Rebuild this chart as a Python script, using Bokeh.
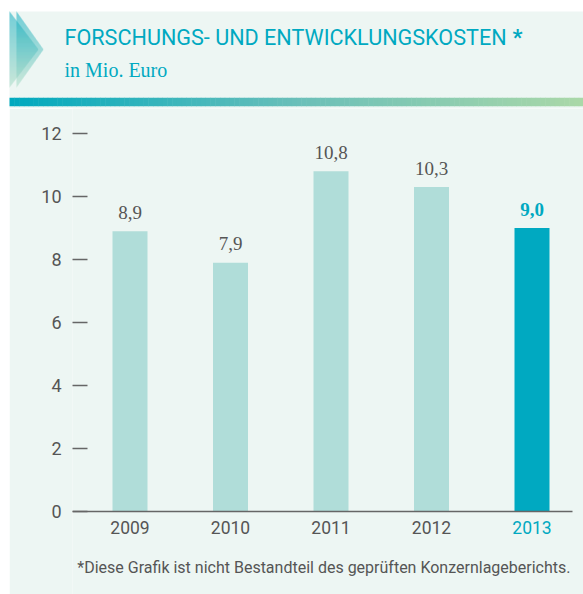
from bokeh.plotting import figure
from bokeh.layouts import column
from bokeh.models import Range1d, FixedTicker
from bokeh.core.properties import value
from bokeh.embed import file_html
from bokeh.resources import INLINE

# ---- data ----
years = [2009, 2010, 2011, 2012, 2013]
costs = [8.9, 7.9, 10.8, 10.3, 9.0]
value_labels = ["8,9", "7,9", "10,8", "10,3", "9,0"]
year_labels = ["2009", "2010", "2011", "2012", "2013"]
y_ticks = [0, 2, 4, 6, 8, 10, 12]
title_text = "FORSCHUNGS- UND ENTWICKLUNGSKOSTEN"
subtitle_text = "in Mio. Euro"
footnote_text = "*Diese Grafik ist nicht Bestandteil des geprüften Konzernlageberichts."

# ---- styles ----
PANEL = "#edf6f3"
LIGHT = "#b0ddd9"
TEAL = "#00a9c1"
GREY = "#555555"
SANS = "Roboto"
SERIF = "Liberation Serif"
SHIFT = 8  # svg text baseline compensation (px)


def lerp(c1, c2, t):
    return "#%02x%02x%02x" % tuple(int(round(a + (b - a) * t)) for a, b in zip(c1, c2))


# ---- header (coordinates = pixels) ----
hdr = figure(width=583, height=108, x_range=Range1d(0, 583), y_range=Range1d(108, 0),
             toolbar_location=None, output_backend="svg", min_border=0)
hdr.axis.visible = False
hdr.grid.visible = False
hdr.outline_line_color = None
hdr.background_fill_color = "white"
hdr.border_fill_color = "white"
hdr.frame_align = False
hdr.quad(left=9, right=583, top=11, bottom=108, fill_color=PANEL, line_color=None)

# chevron: two translucent triangles with a vertical gradient
top_c = (0, 169, 190)
bot_c = (170, 218, 196)
for x0, tip in [(9, 38), (16, 43)]:
    L, R, T, B, C = [], [], [], [], []
    n = 76
    for k in range(n):
        y0 = 11 + k
        frac = 1 - abs(y0 + 0.5 - 49) / 38.0
        if frac <= 0:
            continue
        L.append(x0); R.append(x0 + (tip - x0) * frac)
        T.append(y0); B.append(y0 + 1.05)
        C.append(lerp(top_c, bot_c, k / (n - 1)))
    hdr.quad(left=L, right=R, top=T, bottom=B, fill_color=C, fill_alpha=0.6, line_color=None)

# gradient rule
gl, gr, gc = [], [], []
stops = [(0, 169, 190), (106, 191, 185), (170, 216, 168)]
nb = 120
for i in range(nb):
    t = i / (nb - 1)
    c = lerp(stops[0], stops[1], t / 0.5) if t < 0.5 else lerp(stops[1], stops[2], (t - 0.5) / 0.5)
    gl.append(9 + (583 - 9) * i / nb)
    gr.append(9 + (583 - 9) * (i + 1) / nb + 0.5)
    gc.append(c)
hdr.quad(left=gl, right=gr, top=97.3, bottom=105.7, fill_color=gc, line_color=None)

hdr.text(x=[64], y=[45 - SHIFT], text=[title_text], text_font=value(SANS), text_font_size="21.6px",
         text_color=TEAL, text_baseline="alphabetic")
hdr.text(x=[512], y=[45 - SHIFT], text=["*"], text_font=value(SANS), text_font_size="22px",
         text_color=TEAL, text_baseline="alphabetic", text_font_style="bold")
hdr.text(x=[64], y=[76 - SHIFT + 1], text=[subtitle_text], text_font=value(SERIF), text_font_size="20px",
         text_color=TEAL, text_baseline="alphabetic")

# ---- main chart ----
PX = 31.5    # pixels per y unit
XPX = 100.5  # pixels per year
X0 = 129.5   # pixel position of first bar centre
LEFT_PANEL = 9
TOP, BASE, BOTTOM = 108, 511, 594
main = figure(width=583 - LEFT_PANEL, height=BOTTOM - TOP,
              x_range=Range1d(years[0] - (X0 - 72) / XPX, years[0] + (583 - X0) / XPX),
              y_range=Range1d(-(BOTTOM - BASE) / PX, (BASE - TOP) / PX),
              toolbar_location=None, output_backend="svg",
              min_border_left=72 - LEFT_PANEL, min_border_right=0, min_border_top=0, min_border_bottom=0)
main.margin = (0, 0, 0, LEFT_PANEL)
main.frame_align = False
main.xaxis.visible = False
main.grid.visible = False
main.outline_line_color = None
main.background_fill_color = PANEL
main.border_fill_color = PANEL

ya = main.yaxis[0]
ya.ticker = FixedTicker(ticks=y_ticks)
ya.axis_line_color = None
ya.major_tick_in = 15
ya.major_tick_out = 0
ya.minor_tick_line_color = None
ya.major_tick_line_color = "#666666"
ya.major_tick_line_width = 1.3
ya.major_label_standoff = 11
ya.major_label_text_font = SANS
ya.major_label_text_font_size = "18px"
ya.major_label_text_color = GREY

colors = [LIGHT] * (len(years) - 1) + [TEAL]
main.vbar(x=years, top=costs, bottom=0, width=35 / XPX, fill_color=colors, line_color=None)

# x axis line
main.segment(x0=[years[0] - (X0 - 72) / XPX], x1=[years[0] + (572 - X0) / XPX],
             y0=[0], y1=[0], line_color="#666666", line_width=1.5)

for i in range(len(years)):
    last = i == len(years) - 1
    main.text(x=[years[i]], y=[costs[i] + (11 + SHIFT) / PX], text=[value_labels[i]],
              text_font=value(SERIF), text_font_size="19px",
              text_color=TEAL if last else GREY,
              text_font_style="bold" if last else "normal",
              text_align="center", text_baseline="alphabetic")
    main.text(x=[years[i]], y=[-(535 - SHIFT - BASE) / PX], text=[year_labels[i]],
              text_font=value(SANS), text_font_size="17.5px",
              text_color=TEAL if last else GREY,
              text_align="center", text_baseline="alphabetic")

main.text(x=[years[0] + (570 - X0) / XPX], y=[-(575 - SHIFT - BASE) / PX], text=[footnote_text],
          text_font=value(SANS), text_font_size="16px", text_color=GREY,
          text_align="right", text_baseline="alphabetic")

layout = column(hdr, main, spacing=0)
open("out.html", "w").write(file_html(layout, INLINE))
